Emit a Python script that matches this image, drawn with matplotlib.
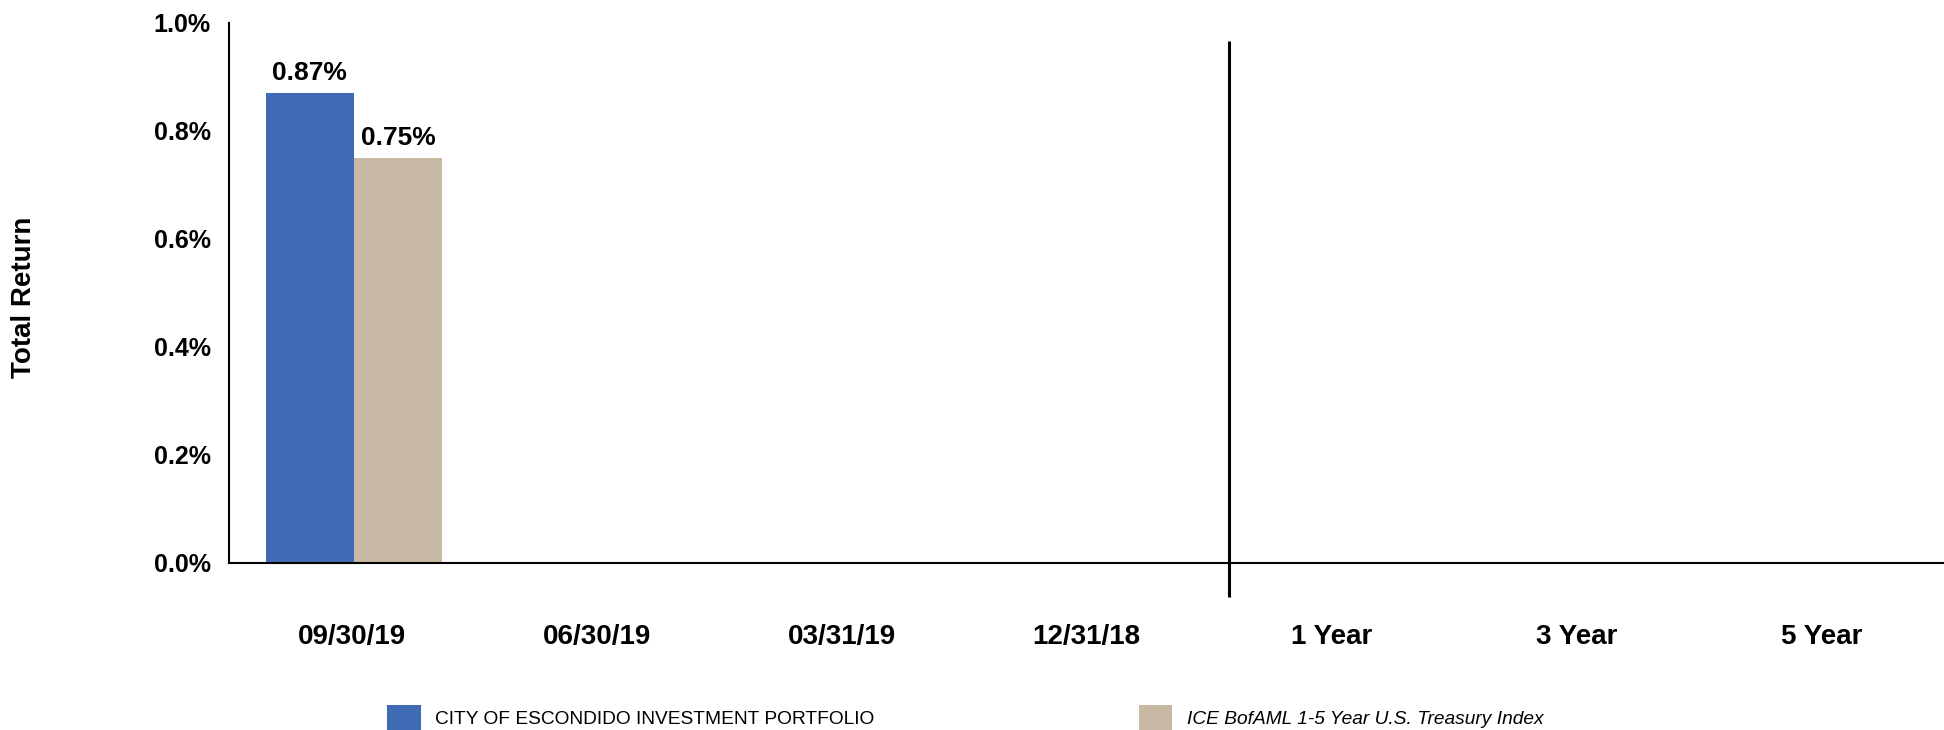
import numpy as np
import matplotlib
matplotlib.use("Agg")
import matplotlib.pyplot as plt
from matplotlib.ticker import FuncFormatter

plt.rcParams['font.family'] = ['Liberation Sans', 'DejaVu Sans']

# ---- data ----
categories = ["09/30/19", "06/30/19", "03/31/19", "12/31/18", "1 Year", "3 Year", "5 Year"]
portfolio = [0.87, np.nan, np.nan, np.nan, np.nan, np.nan, np.nan]
benchmark = [0.75, np.nan, np.nan, np.nan, np.nan, np.nan, np.nan]
series_names = ["CITY OF ESCONDIDO INVESTMENT PORTFOLIO",
                "ICE BofAML 1-5 Year U.S. Treasury Index"]
y_ticks = [0.0, 0.2, 0.4, 0.6, 0.8, 1.0]

# ---- style ----
blue = "#3F6AB4"
tan = "#C8B9A4"
W, H, DPI = 19.44, 7.30, 100

fig = plt.figure(figsize=(W, H), dpi=DPI)
ax = fig.add_axes([229 / 1944, 1 - 563 / 730, 1 - 229 / 1944, (563 - 23) / 730])

x = np.arange(len(categories))
bw = 0.36
b1 = ax.bar(x - bw / 2 + 0.01, portfolio, bw, color=blue, label=series_names[0])
b2 = ax.bar(x + bw / 2 + 0.01, benchmark, bw, color=tan, label=series_names[1])

for bars, vals in ((b1, portfolio), (b2, benchmark)):
    for rect, v in zip(bars, vals):
        if not np.isnan(v):
            ax.annotate(f"{v:.2f}%", (rect.get_x() + rect.get_width() / 2, v),
                        xytext=(0, 6), textcoords="offset points",
                        ha="center", va="bottom", fontsize=19, fontweight="bold")

ax.set_xlim(-0.5, len(categories) - 0.5)
ax.set_ylim(0, 1.0)
ax.set_yticks(y_ticks)
ax.yaxis.set_major_formatter(FuncFormatter(lambda v, p: f"{v:.1f}%"))
ax.set_xticks(x)
ax.set_xticklabels(categories)
ax.tick_params(axis="y", length=0, pad=13, labelsize=18)
ax.tick_params(axis="x", length=0, pad=44, labelsize=20)
for lab in ax.get_xticklabels() + ax.get_yticklabels():
    lab.set_fontweight("bold")

for s in ("top", "right"):
    ax.spines[s].set_visible(False)
for s in ("left", "bottom"):
    ax.spines[s].set_linewidth(1.5)
    ax.spines[s].set_color("black")

# divider between period and annualized returns
ax.plot([3.58, 3.58], [-0.063, 0.967], color="black", lw=2.2, clip_on=False,
        solid_capstyle="butt")

ax.set_ylabel("Total Return", fontsize=20, fontweight="bold")
ax.yaxis.set_label_coords(-0.112, 0.4926)

leg = fig.legend(handles=[b1, b2], loc="center left",
                 bbox_to_anchor=(387 / 1944, 1 - 718 / 730), ncol=2, frameon=False,
                 fontsize=13.8, handlelength=1.75, handleheight=1.75,
                 handletextpad=0.75, columnspacing=13.8, borderpad=0, borderaxespad=0)
leg.get_texts()[1].set_fontstyle("italic")

fig.savefig("out.png", dpi=DPI)
